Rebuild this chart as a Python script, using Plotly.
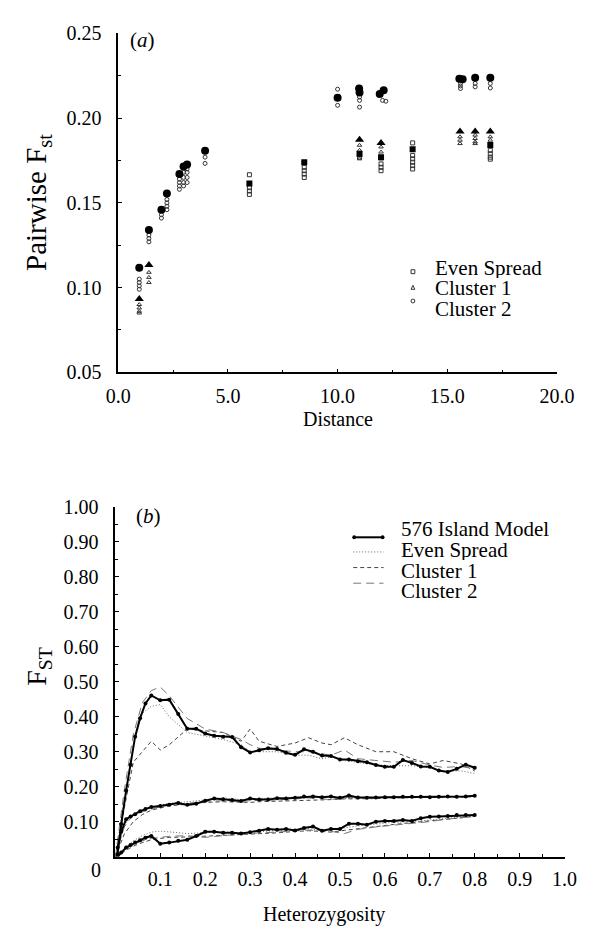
import plotly.graph_objects as go

W, H = 593, 934
SERIF = "Liberation Serif"

# ---------------- panel (a): pairwise Fst vs distance ----------------
# large filled markers = model means, small open markers = replicates
es_dist = [5.98, 8.48, 11.0, 11.98, 13.42, 16.96]
es_mean = [0.1614, 0.174, 0.179, 0.177, 0.1816, 0.1841]
es_rep_dist = [5.98, 5.98, 5.98, 5.98, 8.48, 8.48, 8.48, 8.48, 11.0, 11.98, 11.98, 11.98,
               13.42, 13.42, 13.42, 13.42, 13.42, 13.42, 16.96, 16.96, 16.96, 16.96]
es_rep_fst = [0.1666, 0.159, 0.157, 0.155, 0.171, 0.169, 0.167, 0.165, 0.177, 0.173, 0.171, 0.169,
              0.1854, 0.178, 0.176, 0.174, 0.172, 0.170, 0.181, 0.179, 0.177, 0.1758]

c1_dist = [0.96, 1.40, 11.0, 11.98, 15.58, 16.27, 16.96]
c1_mean = [0.0932, 0.1134, 0.1873, 0.1854, 0.1922, 0.1922, 0.1922]
c1_rep_dist = [0.96, 0.96, 0.96, 0.96, 1.40, 1.40, 1.40, 11.0, 11.0, 11.0, 11.0, 11.98, 11.98, 11.98,
               15.58, 15.58, 15.58, 16.27, 16.27, 16.27, 16.27, 16.96, 16.96]
c1_rep_fst = [0.090, 0.088, 0.086, 0.085, 0.109, 0.106, 0.103, 0.184, 0.181, 0.178, 0.176, 0.183, 0.180, 0.176,
              0.189, 0.187, 0.185, 0.190, 0.188, 0.186, 0.185, 0.189, 0.187]

c2_dist = [0.96, 1.40, 1.97, 2.22, 2.79, 2.98, 3.14, 3.96, 10.0, 10.98, 11.0, 11.92, 12.1, 15.55, 15.7, 16.27, 16.96]
c2_mean = [0.1117, 0.134, 0.146, 0.1555, 0.167, 0.1714, 0.1726, 0.1807, 0.2121, 0.2175, 0.2152, 0.2142, 0.2165,
           0.2232, 0.2230, 0.2238, 0.2238]
c2_rep_dist = [0.96, 0.96, 0.96, 0.96, 1.40, 1.40, 1.40, 1.97, 1.97, 2.22, 2.22, 2.22, 2.22,
               2.79, 2.79, 2.79, 2.79, 2.98, 2.98, 2.98, 2.98, 3.14, 3.14, 3.14, 3.14, 3.96, 3.96,
               10.0, 10.0, 11.0, 11.0, 11.0, 12.05, 12.2, 15.6, 15.6, 15.6, 16.27, 16.27, 16.96, 16.96]
c2_rep_fst = [0.105, 0.103, 0.101, 0.099, 0.131, 0.129, 0.127, 0.143, 0.141, 0.152, 0.150, 0.148, 0.146,
              0.164, 0.162, 0.160, 0.158, 0.168, 0.165, 0.162, 0.160, 0.170, 0.168, 0.165, 0.162, 0.177, 0.1733,
              0.2171, 0.2076, 0.2125, 0.2105, 0.2065, 0.2105, 0.2100, 0.2205, 0.2190, 0.2175, 0.2205, 0.2185,
              0.2205, 0.2178]

# ---------------- panel (b): Fst vs heterozygosity ----------------
isl_h = [0.005, 0.013, 0.024, 0.034, 0.044, 0.055, 0.067, 0.08, 0.10, 0.12, 0.14, 0.16, 0.18, 0.20,
         0.22, 0.24, 0.26, 0.28, 0.30, 0.32, 0.34, 0.36, 0.38, 0.40, 0.42, 0.44, 0.46, 0.48, 0.50,
         0.52, 0.54, 0.56, 0.58, 0.60, 0.62, 0.64, 0.66, 0.68, 0.70, 0.72, 0.74, 0.76, 0.78, 0.80]
isl_hi = [0.007, 0.093, 0.189, 0.263, 0.343, 0.396, 0.438, 0.461, 0.447, 0.449, 0.408, 0.366, 0.366, 0.352,
          0.346, 0.343, 0.342, 0.313, 0.298, 0.304, 0.310, 0.308, 0.297, 0.291, 0.307, 0.300, 0.289, 0.288,
          0.278, 0.278, 0.273, 0.270, 0.262, 0.257, 0.257, 0.276, 0.268, 0.258, 0.257, 0.246, 0.242, 0.251,
          0.263, 0.254]
isl_mid = [0.026, 0.071, 0.107, 0.115, 0.121, 0.130, 0.136, 0.142, 0.145, 0.148, 0.153, 0.148, 0.151, 0.160,
           0.166, 0.164, 0.162, 0.159, 0.166, 0.163, 0.163, 0.167, 0.166, 0.168, 0.172, 0.172, 0.170, 0.172,
           0.168, 0.175, 0.169, 0.168, 0.169, 0.170, 0.170, 0.171, 0.171, 0.171, 0.170, 0.171, 0.172, 0.171,
           0.172, 0.174]
isl_low = [0.0, 0.012, 0.026, 0.033, 0.040, 0.047, 0.054, 0.059, 0.037, 0.040, 0.045, 0.048, 0.059, 0.071,
           0.071, 0.068, 0.068, 0.066, 0.070, 0.074, 0.079, 0.077, 0.079, 0.075, 0.082, 0.086, 0.074, 0.079,
           0.079, 0.094, 0.094, 0.091, 0.100, 0.102, 0.102, 0.105, 0.102, 0.110, 0.114, 0.115, 0.116, 0.119,
           0.119, 0.119]

cmp_h = [0.0, 0.01, 0.02, 0.04, 0.06, 0.08, 0.10, 0.12, 0.16, 0.20, 0.24, 0.28, 0.30, 0.32, 0.36, 0.40,
         0.43, 0.46, 0.48, 0.51, 0.54, 0.58, 0.62, 0.66, 0.70, 0.73, 0.77, 0.80]
es_hi = [0.0, 0.08, 0.17, 0.32, 0.41, 0.43, 0.435, 0.40, 0.355, 0.345, 0.335, 0.32, 0.30, 0.30, 0.30, 0.29,
         0.29, 0.28, 0.285, 0.275, 0.27, 0.262, 0.26, 0.26, 0.255, 0.245, 0.245, 0.238]
c1_hi = [0.0, 0.06, 0.14, 0.27, 0.30, 0.33, 0.305, 0.32, 0.365, 0.36, 0.355, 0.33, 0.365, 0.33, 0.315, 0.325,
         0.34, 0.325, 0.32, 0.34, 0.32, 0.30, 0.30, 0.28, 0.265, 0.275, 0.265, 0.245]
c2_hi = [0.0, 0.09, 0.19, 0.35, 0.44, 0.475, 0.485, 0.46, 0.395, 0.365, 0.355, 0.335, 0.32, 0.31, 0.305, 0.30,
         0.30, 0.295, 0.29, 0.305, 0.28, 0.275, 0.27, 0.275, 0.262, 0.255, 0.258, 0.25]
es_mid = [0.0, 0.05, 0.09, 0.12, 0.132, 0.14, 0.148, 0.152, 0.156, 0.162, 0.168, 0.163, 0.165, 0.166, 0.170,
          0.170, 0.172, 0.172, 0.170, 0.166, 0.168, 0.170, 0.170, 0.170, 0.170, 0.171, 0.172, 0.173]
c1_mid = [0.0, 0.03, 0.065, 0.10, 0.12, 0.133, 0.14, 0.145, 0.15, 0.155, 0.157, 0.155, 0.155, 0.157, 0.158,
          0.160, 0.160, 0.162, 0.163, 0.165, 0.165, 0.166, 0.168, 0.168, 0.170, 0.170, 0.170, 0.172]
c2_mid = [0.0, 0.04, 0.085, 0.12, 0.128, 0.137, 0.143, 0.147, 0.152, 0.158, 0.16, 0.158, 0.16, 0.16, 0.162,
          0.165, 0.168, 0.165, 0.163, 0.170, 0.168, 0.168, 0.17, 0.17, 0.17, 0.171, 0.171, 0.173]
es_low = [0.0, 0.01, 0.025, 0.045, 0.06, 0.07, 0.073, 0.07, 0.066, 0.068, 0.07, 0.068, 0.07, 0.072, 0.075,
          0.078, 0.08, 0.075, 0.076, 0.082, 0.088, 0.093, 0.098, 0.10, 0.105, 0.11, 0.113, 0.117]
c1_low = [0.0, 0.005, 0.015, 0.03, 0.04, 0.048, 0.052, 0.055, 0.056, 0.058, 0.062, 0.064, 0.065, 0.066, 0.068,
          0.072, 0.074, 0.072, 0.07, 0.075, 0.08, 0.085, 0.092, 0.097, 0.102, 0.107, 0.11, 0.115]
c2_low = [0.0, 0.008, 0.02, 0.035, 0.045, 0.052, 0.055, 0.058, 0.06, 0.055, 0.06, 0.065, 0.066, 0.068, 0.07,
          0.073, 0.076, 0.074, 0.072, 0.066, 0.078, 0.085, 0.09, 0.095, 0.1, 0.106, 0.11, 0.115]

a_xticks = [0, 5, 10, 15, 20]
a_yticks = [0.05, 0.10, 0.15, 0.20, 0.25]
b_xticks = [0.1, 0.2, 0.3, 0.4, 0.5, 0.6, 0.7, 0.8, 0.9, 1.0]
b_yticks = [0.1, 0.2, 0.3, 0.4, 0.5, 0.6, 0.7, 0.8, 0.9, 1.0]
legend_a = ["Even Spread", "Cluster 1", "Cluster 2"]
legend_b = ["576 Island Model", "Even Spread", "Cluster 1", "Cluster 2"]


def fx(px):
    return px / W


def fy(py):
    return 1 - py / H


fig = go.Figure()

# panel (a) replicates, then means on top
for d, v, sym in [(es_rep_dist, es_rep_fst, "square-open"),
                  (c1_rep_dist, c1_rep_fst, "triangle-up-open"),
                  (c2_rep_dist, c2_rep_fst, "circle-open")]:
    fig.add_scatter(x=d, y=v, mode="markers", xaxis="x", yaxis="y", showlegend=False,
                    marker=dict(symbol=sym, size=4, color="#333", line_width=1))
for d, v, sym, sz in [(es_dist, es_mean, "square", 6),
                      (c1_dist, c1_mean, "triangle-up", 8),
                      (c2_dist, c2_mean, "circle", 8)]:
    fig.add_scatter(x=d, y=v, mode="markers", xaxis="x", yaxis="y", showlegend=False,
                    marker=dict(symbol=sym, size=sz, color="black", line_width=0))

# panel (b)
dotted = dict(color="#666", width=1, dash="1px,2px")
short_dash = dict(color="#444", width=1, dash="4px,3px")
long_dash = dict(color="#777", width=1, dash="8px,5px")
for es, c1, c2 in [(es_hi, c1_hi, c2_hi), (es_mid, c1_mid, c2_mid), (es_low, c1_low, c2_low)]:
    fig.add_scatter(x=cmp_h, y=es, mode="lines", line=dotted, xaxis="x2", yaxis="y2", showlegend=False)
    fig.add_scatter(x=cmp_h, y=c1, mode="lines", line=short_dash, xaxis="x2", yaxis="y2", showlegend=False)
    fig.add_scatter(x=cmp_h, y=c2, mode="lines", line=long_dash, xaxis="x2", yaxis="y2", showlegend=False)
for isl in [isl_hi, isl_mid, isl_low]:
    fig.add_scatter(x=isl_h, y=isl, mode="lines+markers", xaxis="x2", yaxis="y2", showlegend=False,
                    line=dict(color="black", width=2), marker=dict(size=4, color="black"))

axis_style = dict(showline=True, linecolor="black", linewidth=1.5, ticks="inside", ticklen=4,
                  tickcolor="black", showgrid=False, zeroline=False,
                  tickfont=dict(family=SERIF, size=20, color="black"))

fig.update_layout(
    width=W, height=H, margin=dict(l=0, r=0, t=0, b=0),
    plot_bgcolor="white", paper_bgcolor="white",
    xaxis=dict(axis_style, domain=[fx(111), fx(574)], range=[0, 20], anchor="y",
               tickvals=a_xticks, ticktext=["%.1f" % t for t in a_xticks], ticklabelstandoff=5,
               minor=dict(ticks="inside", ticklen=3, dtick=2.5, tickcolor="black")),
    yaxis=dict(axis_style, domain=[fy(370), fy(23)], range=[0.05, 0.25], anchor="x",
               tickvals=a_yticks, ticktext=["%.2f" % t for t in a_yticks], ticklabelstandoff=11,
               minor=dict(ticks="inside", ticklen=3, dtick=0.025, tickcolor="black")),
    xaxis2=dict(axis_style, domain=[fx(108), fx(582)], range=[0, 1], anchor="y2",
                tickvals=b_xticks, ticktext=["%.1f" % t for t in b_xticks], ticklabelstandoff=4,
                minor=dict(ticks="inside", ticklen=3, dtick=0.05, tickcolor="black")),
    yaxis2=dict(axis_style, domain=[fy(866), fy(508)], range=[0, 1], anchor="x2",
                tickvals=b_yticks, ticktext=["%.2f" % t for t in b_yticks], ticklabelstandoff=11,
                minor=dict(ticks="inside", ticklen=3, dtick=0.05, tickcolor="black")),
)


def label(text, x, y, size=21, xanchor="left", angle=0, height=None):
    fig.add_annotation(text=text, x=fx(x), y=fy(y), xref="paper", yref="paper", showarrow=False,
                       xanchor=xanchor, yanchor="middle", textangle=angle, height=height,
                       font=dict(family=SERIF, size=size, color="black"))


# titles and panel tags
label("(<i>a</i>)", 137, 30, xanchor="center")
label("(<i>b</i>)", 143, 517, xanchor="center")
label("Pairwise F<sub>st</sub>", 27, 196, size=29, xanchor="center", angle=-90)
label("Distance", 343, 418, size=20, xanchor="center")
label("F<sub>ST</sub>", 27, 672, size=28, xanchor="center", angle=-90)
label("Heterozygosity", 328, 925, size=20, xanchor="center")
label("0", 88, 880, size=20, xanchor="center")

# legend (a)
for name, ty in zip(legend_a, [263, 284, 305]):
    label(name, 443, ty, height=20)
sym_line = dict(color="#333", width=1)
fig.add_shape(type="rect", xref="paper", yref="paper", x0=fx(420), x1=fx(424), y0=fy(269), y1=fy(265),
              line=sym_line)
fig.add_shape(type="path", xref="paper", yref="paper", line=sym_line,
              path="M %f,%f L %f,%f L %f,%f Z" % (fx(420), fy(285), fx(424), fy(285), fx(422), fy(281)))
fig.add_shape(type="circle", xref="paper", yref="paper", x0=fx(420), x1=fx(424), y0=fy(299), y1=fy(295),
              line=sym_line)

# legend (b)
for name, ty in zip(legend_b, [531, 552, 573, 594]):
    label(name, 407, ty, height=20)
for ly, style in zip([554, 570, 586], [dotted, short_dash, long_dash]):
    fig.add_shape(type="line", xref="paper", yref="paper", x0=fx(359), x1=fx(391), y0=fy(ly), y1=fy(ly),
                  line=style)
fig.add_shape(type="line", xref="paper", yref="paper", x0=fx(360), x1=fx(390), y0=fy(539), y1=fy(539),
              line=dict(color="black", width=2))
for cx in [360, 390]:
    fig.add_shape(type="circle", xref="paper", yref="paper", x0=fx(cx - 2), x1=fx(cx + 2),
                  y0=fy(541), y1=fy(537), fillcolor="black", line=dict(color="black", width=0))

fig.write_html("out.html", config={"displayModeBar": False},
               post_script="document.body.style.margin='0';")
